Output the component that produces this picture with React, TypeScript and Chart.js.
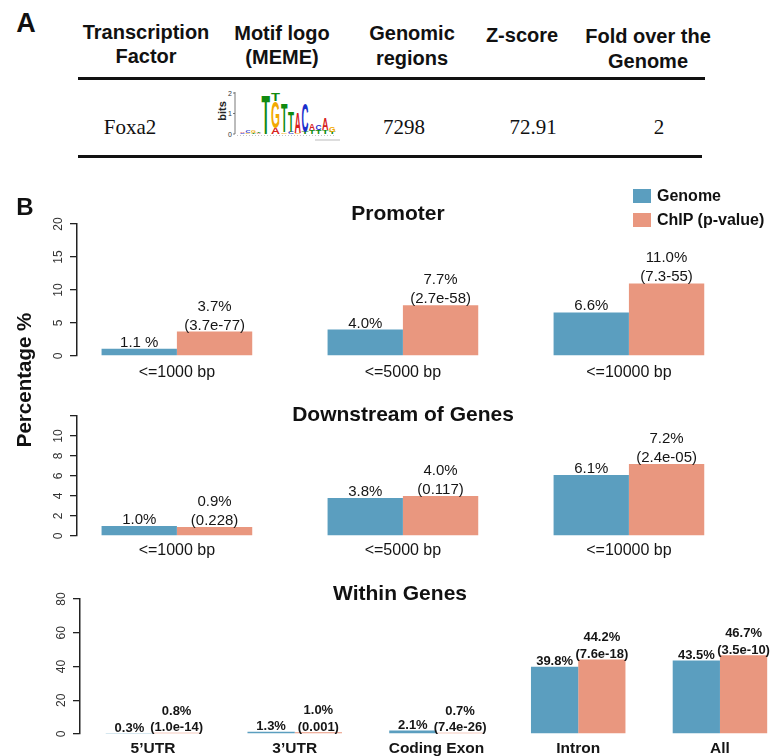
import React, { useEffect, useRef } from "react";
import { Chart, registerables } from "chart.js";

Chart.register(...registerables);

const SANS = '"Liberation Sans", Arial, Helvetica, sans-serif';
const SERIF = '"Liberation Serif", "Times New Roman", serif';
Chart.defaults.font.family = SANS;

// ---------------- Data ----------------
const seriesNames = ["Genome", "ChIP (p-value)"];
const genomeColor = "#5B9EBF";
const chipColor = "#E9977F";

const promoterCategories = ["<=1000 bp", "<=5000 bp", "<=10000 bp"];
const promoterGenome = [1.1, 4.0, 6.6];
const promoterChip = [3.7, 7.7, 11.0];
const promoterGenomeLabels = ["1.1 %", "4.0%", "6.6%"];
const promoterChipLabels = ["3.7%", "7.7%", "11.0%"];
const promoterChipPValues = ["(3.7e-77)", "(2.7e-58)", "(7.3-55)"];
const promoterTickValues = [0, 5, 10, 15, 20];
const promoterTickLabels = ["0", "5", "10", "15", "20"];

const downstreamCategories = ["<=1000 bp", "<=5000 bp", "<=10000 bp"];
const downstreamGenome = [1.0, 3.8, 6.1];
const downstreamChip = [0.9, 4.0, 7.2];
const downstreamGenomeLabels = ["1.0%", "3.8%", "6.1%"];
const downstreamChipLabels = ["0.9%", "4.0%", "7.2%"];
const downstreamChipPValues = ["(0.228)", "(0.117)", "(2.4e-05)"];
const downstreamTickValues = [0, 2, 4, 6, 8, 10, 12];
const downstreamTickLabels = ["0", "2", "4", "6", "8", "10", ""];

const withinCategories = ["5\u2019UTR", "3\u2019UTR", "Coding Exon", "Intron", "All"];
const withinGenome = [0.3, 1.3, 2.1, 39.8, 43.5];
const withinChip = [0.8, 1.0, 0.7, 44.2, 46.7];
const withinGenomeLabels = ["0.3%", "1.3%", "2.1%", "39.8%", "43.5%"];
const withinChipLabels = ["0.8%", "1.0%", "0.7%", "44.2%", "46.7%"];
const withinChipPValues = ["(1.0e-14)", "(0.001)", "(7.4e-26)", "(7.6e-18)", "(3.5e-10)"];
const withinTickValues = [0, 20, 40, 60, 80];
const withinTickLabels = ["0", "20", "40", "60", "80"];

// Table (panel A)
const tableHeaders = [
  ["Transcription", "Factor"],
  ["Motif logo", "(MEME)"],
  ["Genomic", "regions"],
  ["Z-score"],
  ["Fold over the", "Genome"],
];
const tableRow = ["Foxa2", "", "7298", "72.91", "2"];

// Motif logo columns: stacked letters (bottom to top) with information in bits
const logoColumns: { x: number; w: number; stack: [string, number][] }[] = [
  { x: 240, w: 5, stack: [["C", 0.04], ["A", 0.06]] },
  { x: 245.5, w: 5, stack: [["G", 0.06], ["C", 0.09]] },
  { x: 251, w: 5, stack: [["T", 0.05], ["G", 0.1]] },
  { x: 256.5, w: 4.5, stack: [["A", 0.04], ["T", 0.06]] },
  { x: 261.5, w: 8.5, stack: [["T", 1.95]] },
  { x: 271, w: 9, stack: [["A", 0.3], ["G", 1.3], ["T", 0.35]] },
  { x: 281, w: 6.5, stack: [["G", 0.08], ["T", 1.45]] },
  { x: 288, w: 6, stack: [["C", 0.12], ["T", 1.0]] },
  { x: 294.5, w: 6.5, stack: [["G", 0.05], ["A", 1.05]] },
  { x: 301.5, w: 7, stack: [["T", 0.1], ["C", 1.45]] },
  { x: 309, w: 6, stack: [["T", 0.2], ["A", 0.3]] },
  { x: 315.5, w: 6, stack: [["T", 0.2], ["C", 0.25]] },
  { x: 322, w: 6.5, stack: [["T", 0.2], ["A", 0.55]] },
  { x: 329, w: 6.5, stack: [["T", 0.1], ["G", 0.25]] },
];
const logoColors: Record<string, string> = { A: "#D8201C", C: "#1A2FCC", G: "#F2A900", T: "#108A10" };
const logoAdvance: Record<string, number> = { A: 0.722, C: 0.722, G: 0.778, T: 0.611 };

// ---------------- Chart helpers ----------------
function makeLabelPlugin(lines: string[][][], font: string, offset: number, gap: number) {
  return {
    id: "barLabels",
    afterDatasetsDraw(chart: any) {
      const ctx = chart.ctx;
      ctx.save();
      ctx.font = font;
      ctx.fillStyle = "#151515";
      ctx.textAlign = "center";
      ctx.textBaseline = "alphabetic";
      lines.forEach((seriesLines, di) => {
        const meta = chart.getDatasetMeta(di);
        meta.data.forEach((bar: any, i: number) => {
          const ls = seriesLines[i] || [];
          for (let k = 0; k < ls.length; k++) {
            const y = bar.y - offset - (ls.length - 1 - k) * gap;
            ctx.fillText(ls[k], bar.x, y);
          }
        });
      });
      ctx.restore();
    },
  };
}

type PanelSpec = {
  categories: string[];
  genome: number[];
  chip: number[];
  genomeLabels: string[];
  chipLabels: string[];
  chipP: string[];
  tickValues: number[];
  tickLabels: string[];
  xMin: number;
  xMax: number;
  padding: { top: number; left: number; right: number; bottom: number };
  xHeight: number;
  xFont: { size: number; weight: any };
  xPad: number;
  labelFont: string;
  labelOffset: number;
  labelGap: number;
};

function makeConfig(s: PanelSpec): any {
  const yMax = s.tickValues[s.tickValues.length - 1];
  return {
    type: "bar",
    data: {
      datasets: [
        {
          label: seriesNames[0],
          data: s.genome.map((v, i) => ({ x: i + 1, y: v })),
          backgroundColor: genomeColor,
          borderWidth: 0,
          barPercentage: 1,
          categoryPercentage: 2 / 3,
        },
        {
          label: seriesNames[1],
          data: s.chip.map((v, i) => ({ x: i + 1, y: v })),
          backgroundColor: chipColor,
          borderWidth: 0,
          barPercentage: 1,
          categoryPercentage: 2 / 3,
        },
      ],
    },
    options: {
      responsive: false,
      animation: false,
      events: [],
      layout: { padding: s.padding },
      plugins: { legend: { display: false }, title: { display: false }, tooltip: { enabled: false } },
      scales: {
        x: {
          type: "linear",
          offset: false,
          min: s.xMin,
          max: s.xMax,
          bounds: "data",
          afterBuildTicks: (scale: any) => {
            scale.ticks = s.categories.map((_, i) => ({ value: i + 1 }));
          },
          afterFit: (scale: any) => {
            scale.height = s.xHeight;
          },
          ticks: {
            autoSkip: false,
            minRotation: 0,
            maxRotation: 0,
            padding: s.xPad,
            color: "#151515",
            font: { size: s.xFont.size, weight: s.xFont.weight },
            callback: (v: number) => s.categories[Math.round(v) - 1] ?? "",
          },
          grid: { display: false, drawTicks: false },
          border: { display: false },
        },
        y: {
          min: 0,
          max: yMax,
          afterBuildTicks: (scale: any) => {
            scale.ticks = s.tickValues.map((v) => ({ value: v }));
          },
          afterFit: (scale: any) => {
            scale.width = 40;
          },
          ticks: {
            minRotation: 90,
            maxRotation: 90,
            crossAlign: "center",
            padding: 5,
            color: "#333",
            font: { size: 12 },
            callback: (v: number) => {
              const idx = s.tickValues.indexOf(v);
              return idx >= 0 ? s.tickLabels[idx] : "";
            },
          },
          grid: { display: true, drawOnChartArea: false, drawTicks: true, tickLength: 7, color: "#222", lineWidth: 1.3 },
          border: { display: true, color: "#222", width: 1.5 },
        },
      },
    },
    plugins: [
      makeLabelPlugin(
        [s.genomeLabels.map((l) => [l]), s.chipLabels.map((l, i) => [l, s.chipP[i]])],
        s.labelFont,
        s.labelOffset,
        s.labelGap
      ),
    ],
  };
}

function BarPanel({ spec, top, height }: { spec: PanelSpec; top: number; height: number }) {
  const ref = useRef<HTMLCanvasElement | null>(null);
  useEffect(() => {
    if (!ref.current) return;
    const chart = new Chart(ref.current, makeConfig(spec));
    return () => chart.destroy();
  }, []);
  return (
    <canvas
      ref={ref}
      width={773}
      height={height}
      style={{ position: "absolute", left: 0, top, width: 773, height, display: "block" }}
    />
  );
}

const promoterSpec: PanelSpec = {
  categories: promoterCategories,
  genome: promoterGenome,
  chip: promoterChip,
  genomeLabels: promoterGenomeLabels,
  chipLabels: promoterChipLabels,
  chipP: promoterChipPValues,
  tickValues: promoterTickValues,
  tickLabels: promoterTickLabels,
  xMin: 0.558,
  xMax: 3.58,
  padding: { top: 34, left: 37, right: 13, bottom: 0 },
  xHeight: 29,
  xFont: { size: 16, weight: "normal" },
  xPad: 7,
  labelFont: `15px ${SANS}`,
  labelOffset: 2,
  labelGap: 19,
};

const downstreamSpec: PanelSpec = {
  categories: downstreamCategories,
  genome: downstreamGenome,
  chip: downstreamChip,
  genomeLabels: downstreamGenomeLabels,
  chipLabels: downstreamChipLabels,
  chipP: downstreamChipPValues,
  tickValues: downstreamTickValues,
  tickLabels: downstreamTickLabels,
  xMin: 0.558,
  xMax: 3.58,
  padding: { top: 20, left: 37, right: 13, bottom: 0 },
  xHeight: 30,
  xFont: { size: 16, weight: "normal" },
  xPad: 5,
  labelFont: `15px ${SANS}`,
  labelOffset: 2.5,
  labelGap: 19,
};

const withinSpec: PanelSpec = {
  categories: withinCategories,
  genome: withinGenome,
  chip: withinChip,
  genomeLabels: withinGenomeLabels,
  chipLabels: withinChipLabels,
  chipP: withinChipPValues,
  tickValues: withinTickValues,
  tickLabels: withinTickLabels,
  xMin: 0.485,
  xMax: 5.339,
  padding: { top: 19, left: 40, right: 5, bottom: 0 },
  xHeight: 22,
  xFont: { size: 15.5, weight: "bold" },
  xPad: 5,
  labelFont: `bold 13px ${SANS}`,
  labelOffset: 1.5,
  labelGap: 16.5,
};

// ---------------- HTML helpers ----------------
function Txt(props: {
  x: number;
  y: number;
  size: number;
  bold?: boolean;
  serif?: boolean;
  rotate?: number;
  anchor?: "center" | "left";
  children: React.ReactNode;
}) {
  const { x, y, size, bold, serif, rotate, anchor = "center", children } = props;
  const tx = anchor === "center" ? "-50%" : "0";
  return (
    <div
      style={{
        position: "absolute",
        left: x,
        top: y,
        transform: `translate(${tx}, -50%)${rotate ? ` rotate(${rotate}deg)` : ""}`,
        fontSize: size,
        fontWeight: bold ? 700 : 400,
        fontFamily: serif ? SERIF : SANS,
        lineHeight: 1,
        whiteSpace: "nowrap",
        color: "#111",
      }}
    >
      {children}
    </div>
  );
}

function MotifLogo() {
  const base = 134;
  const bitPx = 20.5;
  const letters: React.ReactNode[] = [];
  logoColumns.forEach((col, ci) => {
    let y = base;
    col.stack.forEach(([ch, bits], li) => {
      const h = bits * bitPx;
      const sx = col.w / (logoAdvance[ch] * 10);
      const sy = h / 7.16;
      letters.push(
        <text
          key={`${ci}-${li}`}
          transform={`translate(${col.x},${y}) scale(${sx},${sy})`}
          fontSize={10}
          fontWeight="bold"
          fontFamily={SANS}
          fill={logoColors[ch]}
        >
          {ch}
        </text>
      );
      y -= h;
    });
  });
  return (
    <svg
      width={135}
      height={64}
      viewBox="210 84 135 64"
      style={{ position: "absolute", left: 210, top: 84, overflow: "visible" }}
    >
      <line x1={235} y1={92} x2={235} y2={134} stroke="#555" strokeWidth={0.8} />
      {[2, 1, 0].map((b) => (
        <g key={b}>
          <line x1={233} y1={base - b * bitPx} x2={235} y2={base - b * bitPx} stroke="#555" strokeWidth={0.8} />
          <text x={232} y={base - b * bitPx + 2.5} fontSize={7} textAnchor="end" fontFamily={SANS} fill="#333">
            {b}
          </text>
        </g>
      ))}
      <text transform="translate(226,111) rotate(-90)" fontSize={11} fontWeight="bold" textAnchor="middle" fontFamily={SANS} fill="#222">
        bits
      </text>
      <line x1={237} y1={135.5} x2={335} y2={135.5} stroke="#999" strokeWidth={0.6} strokeDasharray="1 2" />
      <line x1={315} y1={140} x2={340} y2={140} stroke="#aaa" strokeWidth={0.8} />
      {letters}
    </svg>
  );
}

export default function App() {
  const headerX = [146, 282, 412, 522, 648];
  const headerY = [[32, 56], [33, 57], [33, 58], [35], [36, 61]];
  const rowX = [130, 0, 404, 533, 659];
  return (
    <div
      style={{
        position: "absolute",
        left: 0,
        top: 0,
        width: 773,
        height: 756,
        overflow: "hidden",
        background: "#fff",
      }}
    >
      <BarPanel spec={promoterSpec} top={190} height={195} />
      <BarPanel spec={downstreamSpec} top={396} height={170} />
      <BarPanel spec={withinSpec} top={580} height={176} />

      {/* Panel A */}
      <Txt x={26} y={23} size={27} bold>A</Txt>
      {tableHeaders.map((lines, i) =>
        lines.map((l, j) => (
          <Txt key={`h${i}-${j}`} x={headerX[i]} y={headerY[i][j]} size={20} bold>
            {l}
          </Txt>
        ))
      )}
      <div style={{ position: "absolute", left: 78, top: 77, width: 627, height: 3, background: "#111" }} />
      {tableRow.map((v, i) =>
        v ? (
          <Txt key={`r${i}`} x={rowX[i]} y={127} size={21} serif>
            {v}
          </Txt>
        ) : null
      )}
      <MotifLogo />
      <div style={{ position: "absolute", left: 78, top: 155, width: 624, height: 3, background: "#111" }} />

      {/* Panel B */}
      <Txt x={25} y={207} size={24} bold>B</Txt>
      <Txt x={24} y={380} size={20.5} bold rotate={-90}>Percentage %</Txt>
      <Txt x={398} y={212} size={21} bold>Promoter</Txt>
      <Txt x={403} y={413} size={21} bold>Downstream of Genes</Txt>
      <Txt x={400} y={592} size={21} bold>Within Genes</Txt>

      {/* Legend */}
      <div style={{ position: "absolute", left: 633, top: 189, width: 18, height: 14, background: genomeColor }} />
      <div style={{ position: "absolute", left: 633, top: 213, width: 18, height: 14, background: chipColor }} />
      <Txt x={657} y={196} size={16} bold anchor="left">{seriesNames[0]}</Txt>
      <Txt x={657} y={220} size={16} bold anchor="left">{seriesNames[1]}</Txt>
    </div>
  );
}
